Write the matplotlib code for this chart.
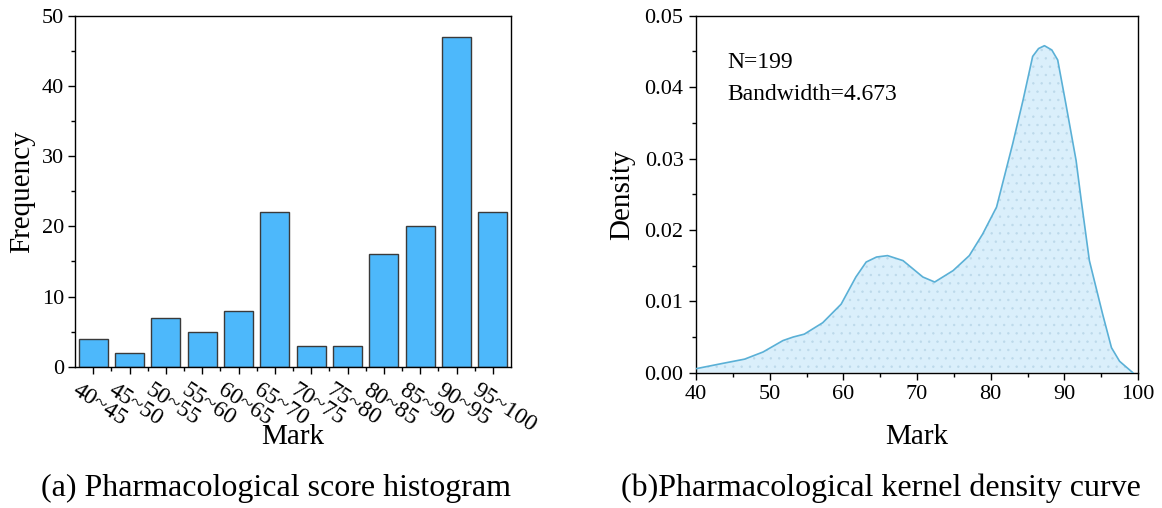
import matplotlib
matplotlib.use("Agg")
import matplotlib.pyplot as plt
import matplotlib.transforms as mtransforms
from matplotlib.ticker import MultipleLocator, FormatStrFormatter
import numpy as np

plt.rcParams['font.family'] = ['Liberation Serif', 'DejaVu Serif']
plt.rcParams['hatch.linewidth'] = 0.5

# Histogram of pharmacology marks
bins = ["40~45", "45~50", "50~55", "55~60", "60~65", "65~70",
        "70~75", "75~80", "80~85", "85~90", "90~95", "95~100"]
freq = [4, 2, 7, 5, 8, 22, 3, 3, 16, 20, 47, 22]

# Kernel density estimate of the same marks
kde_x = [40.0, 43.6, 46.6, 49.1, 51.8, 53.2, 54.7, 57.2, 59.7, 61.7, 63.1,
         64.5, 66.0, 68.1, 70.8, 72.4, 74.9, 77.1, 78.9, 80.8, 83.0, 84.4,
         85.7, 86.5, 87.3, 88.3, 89.1, 90.2, 91.6, 92.3, 93.4, 95.2, 96.4,
         97.5, 99.3]
kde_y = [0.00056, 0.0013, 0.0019, 0.0029, 0.0045, 0.0050, 0.0054, 0.0070,
         0.0096, 0.0134, 0.0155, 0.0162, 0.0164, 0.0157, 0.0134, 0.0127,
         0.0143, 0.0164, 0.0194, 0.0232, 0.0321, 0.0382, 0.0443, 0.0454,
         0.0458, 0.0452, 0.0438, 0.0377, 0.0297, 0.0241, 0.0157, 0.0082,
         0.0035, 0.0016, 0.0]
n_obs = 199
bandwidth = 4.673

W, H = 1162, 508
fig = plt.figure(figsize=(W / 100, H / 100), dpi=100)


def px_axes(l, t, r, b):
    return fig.add_axes([l / W, 1 - b / H, (r - l) / W, (b - t) / H])


def style_axes(ax):
    for s in ax.spines.values():
        s.set_linewidth(1.0)
        s.set_color('black')
    ax.tick_params(which='major', direction='out', length=5, width=1.0,
                   labelsize=16, top=False, right=False)
    ax.tick_params(which='minor', direction='out', length=3, width=1.0,
                   top=False, right=False)


# (a) histogram
ax1 = px_axes(75, 15.7, 511, 366.7)
pos = np.arange(len(bins))
ax1.bar(pos, freq, width=0.8, color='#4db8fb', edgecolor='#3a3a3a',
        linewidth=1.0, zorder=2)
ax1.set_xlim(-0.5, len(bins) - 0.5)
ax1.set_ylim(0, 50)
style_axes(ax1)
ax1.yaxis.set_major_locator(MultipleLocator(10))
ax1.yaxis.set_minor_locator(MultipleLocator(5))
ax1.set_xticks(pos)
ax1.set_xticks(pos[:-1] + 0.5, minor=True)
ax1.tick_params(axis='y', which='major', pad=3)
ax1.tick_params(axis='x', which='major', pad=4.0)
ax1.set_xticklabels(bins, rotation=-33, ha='left', va='top',
                    rotation_mode='anchor', fontsize=17)
shift = mtransforms.ScaledTranslation(-0.13, 0, fig.dpi_scale_trans)
for lbl in ax1.get_xticklabels():
    lbl.set_transform(lbl.get_transform() + shift)
ax1.set_ylabel('Frequency', fontsize=21)
ax1.yaxis.set_label_coords(-0.122, 0.5)
ax1.yaxis.label.set_va('center')
ax1.set_xlabel('Mark', fontsize=21)
ax1.xaxis.set_label_coords(0.5, -0.200)
ax1.xaxis.label.set_va('center')

# (b) kernel density curve
ax2 = px_axes(696, 15.7, 1138, 372.7)
ax2.fill_between(kde_x, kde_y, 0, facecolor='#daeffb', edgecolor='#bcd9ea',
                 hatch='..', linewidth=0, zorder=1)
ax2.plot(kde_x, kde_y, color='#5ab0d6', linewidth=1.2, zorder=3)
ax2.set_xlim(40, 100)
ax2.set_ylim(0, 0.05)
style_axes(ax2)
ax2.xaxis.set_major_locator(MultipleLocator(10))
ax2.xaxis.set_minor_locator(MultipleLocator(5))
ax2.yaxis.set_major_locator(MultipleLocator(0.01))
ax2.yaxis.set_minor_locator(MultipleLocator(0.005))
ax2.yaxis.set_major_formatter(FormatStrFormatter('%.2f'))
ax2.tick_params(axis='y', which='major', pad=4)
ax2.tick_params(axis='x', which='major', pad=3.5)
ax2.set_ylabel('Density', fontsize=21)
ax2.yaxis.set_label_coords(-0.166, 0.5)
ax2.yaxis.label.set_va('center')
ax2.set_xlabel('Mark', fontsize=21)
ax2.xaxis.set_label_coords(0.5, -0.18)
ax2.xaxis.label.set_va('center')
ax2.text(44.2, 0.0434, f'N={n_obs}', fontsize=17, va='center', ha='left')
ax2.text(44.2, 0.0389, f'Bandwidth={bandwidth}', fontsize=17,
         va='center', ha='left')

# captions
fig.text(276 / W, 1 - 488 / H, '(a) Pharmacological score histogram',
         fontsize=23, ha='center', va='center')
fig.text(881 / W, 1 - 488 / H, '(b)Pharmacological kernel density curve',
         fontsize=23, ha='center', va='center')

fig.savefig('out.png', dpi=100, facecolor='white')
